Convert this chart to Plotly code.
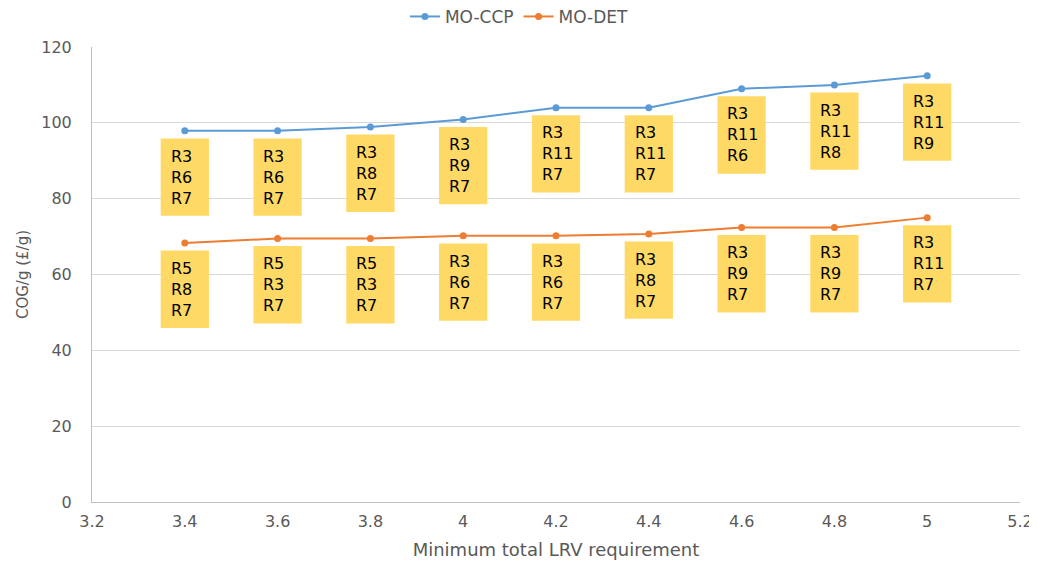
import plotly.graph_objects as go

x_vals = [3.4, 3.6, 3.8, 4.0, 4.2, 4.4, 4.6, 4.8, 5.0]
ccp_vals = [97.9, 97.9, 98.9, 100.9, 104.0, 104.0, 109.0, 110.0, 112.4]
det_vals = [68.3, 69.5, 69.5, 70.2, 70.2, 70.7, 72.4, 72.4, 75.0]
ccp_labels = [["R3", "R6", "R7"], ["R3", "R6", "R7"], ["R3", "R8", "R7"],
              ["R3", "R9", "R7"], ["R3", "R11", "R7"], ["R3", "R11", "R7"],
              ["R3", "R11", "R6"], ["R3", "R11", "R8"], ["R3", "R11", "R9"]]
det_labels = [["R5", "R8", "R7"], ["R5", "R3", "R7"], ["R5", "R3", "R7"],
              ["R3", "R6", "R7"], ["R3", "R6", "R7"], ["R3", "R8", "R7"],
              ["R3", "R9", "R7"], ["R3", "R9", "R7"], ["R3", "R11", "R7"]]
x_ticks = [3.2, 3.4, 3.6, 3.8, 4.0, 4.2, 4.4, 4.6, 4.8, 5.0, 5.2]
x_tick_text = ["3.2", "3.4", "3.6", "3.8", "4", "4.2", "4.4", "4.6", "4.8", "5", "5.2"]

BLUE = "#5B9BD5"
ORANGE = "#ED7D31"
YELLOW = "#FFD966"
GRAY = "#595959"
FONT = "DejaVu Sans"

fig = go.Figure()
fig.add_trace(go.Scatter(x=x_vals, y=ccp_vals, mode="lines+markers", name="MO-CCP",
                         line=dict(color=BLUE, width=2), marker=dict(size=7, color=BLUE)))
fig.add_trace(go.Scatter(x=x_vals, y=det_vals, mode="lines+markers", name="MO-DET",
                         line=dict(color=ORANGE, width=2), marker=dict(size=7, color=ORANGE)))

half_w = 0.052
gap = 2.0
box_h = 20.4
for vals, labels in ((ccp_vals, ccp_labels), (det_vals, det_labels)):
    for xv, v, lab in zip(x_vals, vals, labels):
        top = v - gap
        bot = top - box_h
        fig.add_shape(type="rect", xref="x", yref="y", x0=xv - half_w, x1=xv + half_w,
                      y0=bot, y1=top, fillcolor=YELLOW, line=dict(width=0), layer="above")
        fig.add_annotation(x=xv - half_w, y=(top + bot) / 2, xref="x", yref="y",
                           xanchor="left", yanchor="middle", xshift=8, align="left",
                           text="<br>".join(lab), showarrow=False,
                           font=dict(family=FONT, size=16, color="#000000"))

fig.update_layout(
    width=1029, height=557,
    margin=dict(l=84, r=17, t=39, b=63),
    paper_bgcolor="white", plot_bgcolor="white",
    showlegend=True,
    legend=dict(orientation="h", x=0.497, xanchor="center", y=0.984, yanchor="middle",
                xref="container", yref="container",
                font=dict(family=FONT, size=17, color=GRAY)),
    xaxis=dict(range=[3.2, 5.2], tickvals=x_ticks, ticktext=x_tick_text, automargin=False,
               showgrid=False, zeroline=False, showline=True, linecolor="#BFBFBF", linewidth=1,
               ticks="", ticklabelstandoff=5,
               tickfont=dict(family=FONT, size=16, color=GRAY),
               title=dict(text="Minimum total LRV requirement", standoff=13,
                          font=dict(family=FONT, size=18, color=GRAY))),
    yaxis=dict(range=[0, 120], dtick=20, showgrid=True, gridcolor="#D9D9D9", gridwidth=1,
               zeroline=False, showline=True, linecolor="#BFBFBF", linewidth=1, automargin=False,
               ticks="", ticklabelstandoff=16,
               tickfont=dict(family=FONT, size=16, color=GRAY),
               title=dict(text="COG/g (£/g)", standoff=9,
                          font=dict(family=FONT, size=15, color=GRAY))),
)

fig.write_html("out.html")
